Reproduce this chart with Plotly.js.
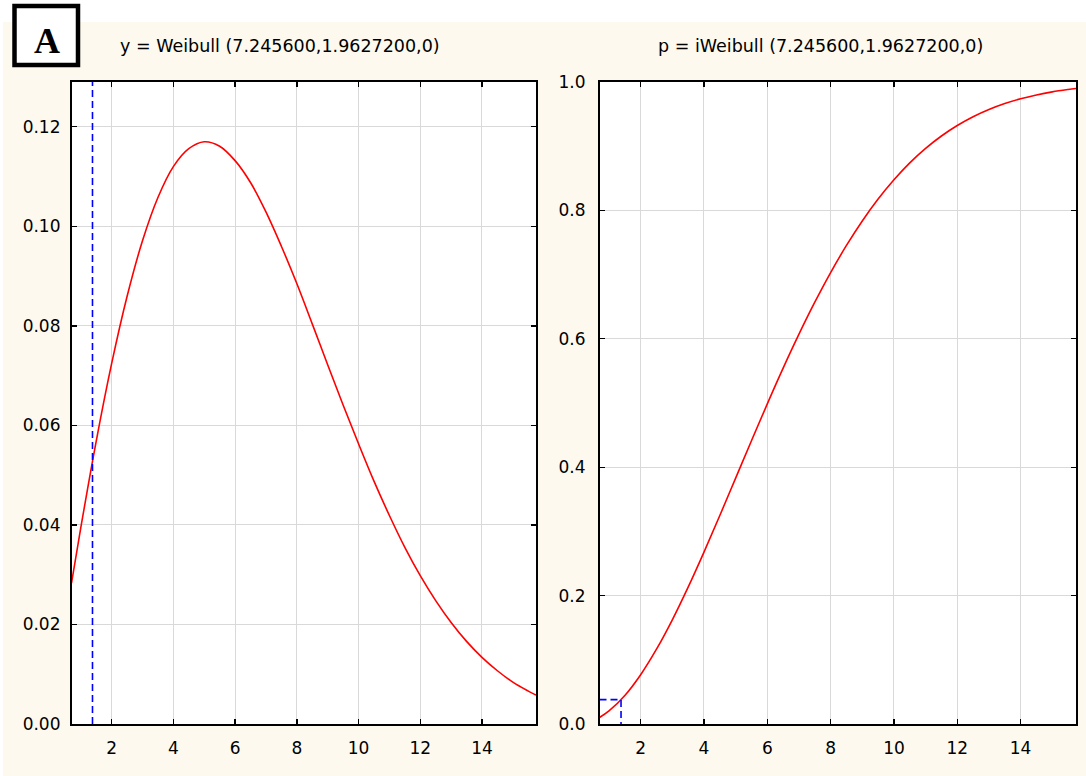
<!DOCTYPE html>
<html>
<head>
<meta charset="utf-8">
<script src="https://cdn.plot.ly/plotly-3.0.1.min.js"></script>
<style>html,body{margin:0;padding:0;background:#fff;}</style>
</head>
<body>
<div id="chart" style="width:1086px;height:776px;"></div>
<script>
// Data
const xValues = [0.7, 1, 1.5, 2, 2.5, 3, 3.5, 4, 4.5, 5, 5.5, 6, 6.5, 7, 7.5, 8, 8.5, 9, 9.5, 10,
                 10.5, 11, 11.5, 12, 12.5, 13, 13.5, 14, 14.5, 15, 15.5, 15.75];
const densityValues = [0.0283, 0.0394, 0.0568, 0.0724, 0.0859, 0.0971, 0.1058, 0.1120, 0.1156, 0.1170,
                       0.1161, 0.1132, 0.1088, 0.1029, 0.0960, 0.0885, 0.0804, 0.0722, 0.0641, 0.0563,
                       0.0488, 0.0419, 0.0355, 0.0298, 0.0248, 0.0204, 0.0166, 0.0134, 0.0107, 0.0084,
                       0.0066, 0.0058];
const cumulativeValues = [0.0101, 0.0203, 0.0444, 0.0768, 0.1165, 0.1623, 0.2132, 0.2678, 0.3247, 0.3830,
                          0.4413, 0.4987, 0.5543, 0.6072, 0.6570, 0.7032, 0.7454, 0.7836, 0.8177, 0.8477,
                          0.8740, 0.8966, 0.9159, 0.9322, 0.9459, 0.9571, 0.9664, 0.9738, 0.9798, 0.9846,
                          0.9883, 0.9899];
const cutoffX = 1.38;
const cutoffP = 0.038;
const xRange = [0.7, 15.75];
const densityRange = [0, 0.129];
const probabilityRange = [0, 1.0];
const xTicks = [2, 4, 6, 8, 10, 12, 14];
const densityTicks = [0, 0.02, 0.04, 0.06, 0.08, 0.10, 0.12];
const probabilityTicks = [0, 0.2, 0.4, 0.6, 0.8, 1.0];
const leftTitle = 'y = Weibull (7.245600,1.9627200,0)';
const rightTitle = 'p = iWeibull (7.245600,1.9627200,0)';
const panelLabel = 'A';

const W = 1086, H = 776;
const px = v => v / W;
const py = v => (H - v) / H;

const tickFont = {family: 'DejaVu Sans, sans-serif', size: 17, color: '#000'};
function axisBase(extra) {
  return Object.assign({
    showline: true, linecolor: '#000', linewidth: 1.6, mirror: 'ticks',
    ticks: 'inside', ticklen: 5, tickwidth: 1.4, tickcolor: '#000',
    showgrid: true, gridcolor: '#d9d9d9', gridwidth: 1,
    zeroline: false, tickfont: tickFont, fixedrange: true
  }, extra);
}

const traces = [
  {x: xValues, y: densityValues, xaxis: 'x', yaxis: 'y', mode: 'lines',
   line: {color: '#ff0000', width: 1.6, shape: 'spline', smoothing: 1}, hoverinfo: 'skip'},
  {x: [cutoffX, cutoffX], y: densityRange, xaxis: 'x', yaxis: 'y', mode: 'lines',
   line: {color: '#0000ff', width: 1.6, dash: '7px,4px'}, hoverinfo: 'skip'},
  {x: xValues, y: cumulativeValues, xaxis: 'x2', yaxis: 'y2', mode: 'lines',
   line: {color: '#ff0000', width: 1.6, shape: 'spline', smoothing: 1}, hoverinfo: 'skip'},
  {x: [xRange[0], cutoffX, cutoffX], y: [cutoffP, cutoffP, 0], xaxis: 'x2', yaxis: 'y2', mode: 'lines',
   line: {color: '#0000ff', width: 1.6, dash: '7px,4px'}, hoverinfo: 'skip'}
];

const yDomain = [py(724), py(82)];
const layout = {
  width: W, height: H,
  margin: {l: 0, r: 0, t: 0, b: 0},
  paper_bgcolor: '#fdf9ee',
  plot_bgcolor: '#ffffff',
  showlegend: false,
  xaxis: axisBase({domain: [px(71.5), px(536)], range: xRange, tickvals: xTicks, anchor: 'y', ticklabelstandoff: 8}),
  yaxis: axisBase({domain: yDomain, range: densityRange, tickvals: densityTicks, tickformat: '.2f', anchor: 'x', ticklabelstandoff: 6}),
  xaxis2: axisBase({domain: [px(599.5), px(1076)], range: xRange, tickvals: xTicks, anchor: 'y2', ticklabelstandoff: 8}),
  yaxis2: axisBase({domain: yDomain, range: probabilityRange, tickvals: probabilityTicks, tickformat: '.1f', anchor: 'x2', ticklabelstandoff: 9}),
  shapes: [
    {type: 'rect', xref: 'paper', yref: 'paper', x0: 0, x1: 1, y0: py(22), y1: 1,
     fillcolor: '#ffffff', line: {width: 0}, layer: 'below'},
    {type: 'rect', xref: 'paper', yref: 'paper', x0: 0, x1: px(3), y0: 0, y1: 1,
     fillcolor: '#ffffff', line: {width: 0}, layer: 'below'},
    {type: 'rect', xref: 'paper', yref: 'paper', x0: px(14.5), x1: px(78), y0: py(65), y1: py(6),
     fillcolor: '#ffffff', line: {color: '#000', width: 4.5}, layer: 'above'}
  ],
  annotations: [
    {text: leftTitle, xref: 'paper', yref: 'paper', x: px(280), y: py(46), showarrow: false,
     xanchor: 'center', yanchor: 'middle', font: {family: 'DejaVu Sans, sans-serif', size: 17.5, color: '#000'}},
    {text: rightTitle, xref: 'paper', yref: 'paper', x: px(820), y: py(46), showarrow: false,
     xanchor: 'center', yanchor: 'middle', font: {family: 'DejaVu Sans, sans-serif', size: 17.5, color: '#000'}},
    {text: '<b>' + panelLabel + '</b>', xref: 'paper', yref: 'paper', x: px(46.5), y: py(41), showarrow: false,
     xanchor: 'center', yanchor: 'middle', font: {family: 'Liberation Serif, serif', size: 36, color: '#000'}}
  ]
};

Plotly.newPlot('chart', traces, layout, {displayModeBar: false, staticPlot: true});
</script>
</body>
</html>
